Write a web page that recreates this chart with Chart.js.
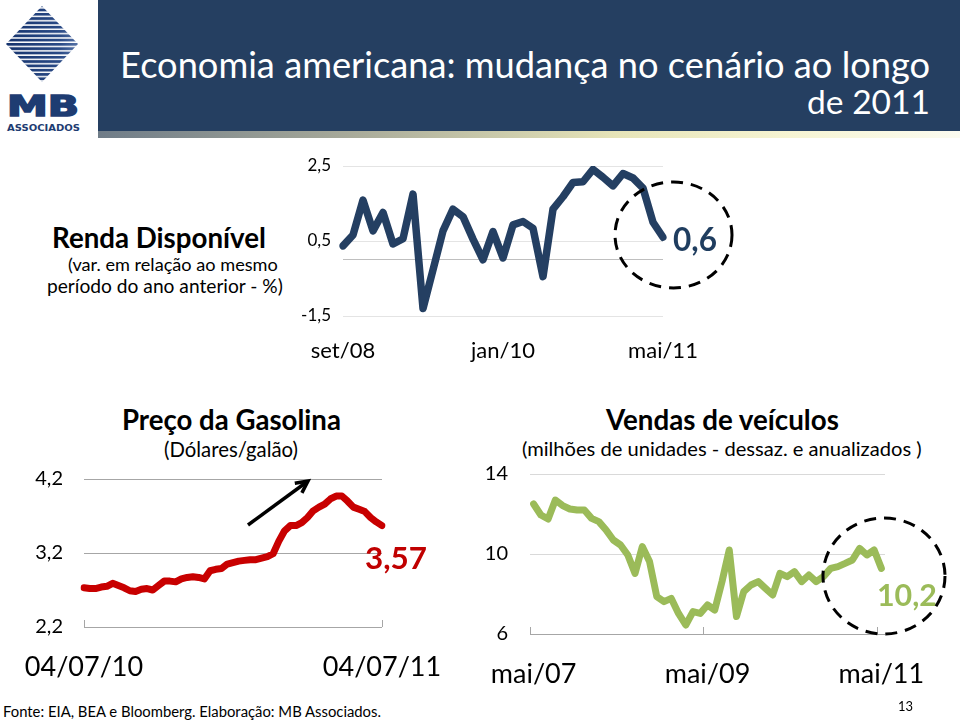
<!DOCTYPE html>
<html><head><meta charset="utf-8">
<script src="https://cdn.jsdelivr.net/npm/chart.js"></script>
<style>
html,body{margin:0;padding:0;background:#fff;}
#page{position:relative;width:960px;height:721px;overflow:hidden;font-family:Lato,'Open Sans',sans-serif;background:#fff;}
.t{position:absolute;white-space:nowrap;line-height:1;}
canvas{position:absolute;}
#banner{position:absolute;left:98px;top:0;width:862px;height:131px;background:#253f61;}
#strip{position:absolute;left:98px;top:131px;width:862px;height:7px;background:linear-gradient(to right,#6f7c88 0%,#a9ab9a 30%,#e6e4b8 60%,#f6f4d2 80%,#fbfbf0 100%);}
</style></head><body><div id="page">
<div id="banner"></div><div id="strip"></div>
<svg width="100" height="140" style="position:absolute;left:0;top:0">
 <defs>
  <linearGradient id="lg" x1="0" y1="0" x2="1" y2="0">
   <stop offset="0" stop-color="#12306a"/><stop offset="0.6" stop-color="#2a4a86"/><stop offset="1" stop-color="#8aa3cc"/>
  </linearGradient>
  <pattern id="stripes" patternUnits="userSpaceOnUse" width="100" height="4.3">
   <rect x="0" y="0" width="100" height="2.8" fill="url(#lg)"/>
  </pattern>
  <clipPath id="dia"><polygon points="42,6 78,44 42,82 6,44"/></clipPath>
 </defs>
 <rect x="0" y="6" width="100" height="78" fill="url(#stripes)" clip-path="url(#dia)"/>
 <text x="7" y="116" font-family="'DejaVu Sans'" font-weight="bold" font-size="29" fill="#1e3c72" stroke="#1e3c72" stroke-width="1.6" textLength="72" lengthAdjust="spacingAndGlyphs">MB</text>
 <text x="7" y="131" font-family="'DejaVu Sans'" font-weight="bold" font-size="9" fill="#1e3c72" textLength="73" lengthAdjust="spacingAndGlyphs">ASSOCIADOS</text>
</svg>
<canvas id="c1" width="410" height="215" style="left:290px;top:150px"></canvas>
<canvas id="c2" width="430" height="220" style="left:20px;top:465px"></canvas>
<canvas id="c3" width="470" height="232" style="left:470px;top:460px"></canvas>
</div>
<script>
// ---------------- DATA ----------------
const rendaCategories = ['set/08','out/08','nov/08','dez/08','jan/09','fev/09','mar/09','abr/09','mai/09','jun/09','jul/09','ago/09','set/09','out/09','nov/09','dez/09','jan/10','fev/10','mar/10','abr/10','mai/10','jun/10','jul/10','ago/10','set/10','out/10','nov/10','dez/10','jan/11','fev/11','mar/11','abr/11','mai/11'];
const rendaValues = [0.37,0.66,1.59,0.77,1.26,0.42,0.56,1.75,-1.30,-0.27,0.77,1.35,1.15,0.55,0.00,0.75,0.05,0.93,1.02,0.84,-0.45,1.35,1.68,2.06,2.08,2.41,2.20,1.97,2.30,2.18,1.91,1.00,0.60];
const rendaXTickLabels = ['set/08','jan/10','mai/11'];
const rendaYTicks = [-1.5, 0.5, 2.5];

const gasCategories = ['04/07/10','11/07/10','18/07/10','25/07/10','01/08/10','08/08/10','15/08/10','22/08/10','29/08/10','05/09/10','12/09/10','19/09/10','26/09/10','03/10/10','10/10/10','17/10/10','24/10/10','31/10/10','07/11/10','14/11/10','21/11/10','28/11/10','05/12/10','12/12/10','19/12/10','26/12/10','02/01/11','09/01/11','16/01/11','23/01/11','30/01/11','06/02/11','13/02/11','20/02/11','27/02/11','06/03/11','13/03/11','20/03/11','27/03/11','03/04/11','10/04/11','17/04/11','24/04/11','01/05/11','08/05/11','15/05/11','22/05/11','29/05/11','05/06/11','12/06/11','19/06/11','26/06/11','04/07/11'];
const gasValues = [2.73,2.72,2.72,2.74,2.75,2.79,2.76,2.73,2.69,2.68,2.71,2.72,2.70,2.76,2.82,2.82,2.81,2.85,2.87,2.88,2.87,2.85,2.96,2.98,2.99,3.05,3.07,3.09,3.10,3.11,3.11,3.13,3.15,3.19,3.36,3.50,3.57,3.57,3.61,3.68,3.77,3.82,3.86,3.93,3.97,3.97,3.90,3.82,3.79,3.76,3.68,3.62,3.57];
const gasXTickLabels = ['04/07/10','04/07/11'];
const gasYTicks = [2.2, 3.2, 4.2];

const vendasCategories = ['mai/07','jun/07','jul/07','ago/07','set/07','out/07','nov/07','dez/07','jan/08','fev/08','mar/08','abr/08','mai/08','jun/08','jul/08','ago/08','set/08','out/08','nov/08','dez/08','jan/09','fev/09','mar/09','abr/09','mai/09','jun/09','jul/09','ago/09','set/09','out/09','nov/09','dez/09','jan/10','fev/10','mar/10','abr/10','mai/10','jun/10','jul/10','ago/10','set/10','out/10','nov/10','dez/10','jan/11','fev/11','mar/11','abr/11','mai/11'];
const vendasValues = [12.5,11.95,11.75,12.7,12.42,12.25,12.2,12.2,11.78,11.62,11.2,10.7,10.45,9.95,9.03,10.37,9.62,7.87,7.62,7.78,7.03,6.45,7.12,7.03,7.45,7.2,8.62,10.2,6.87,8.12,8.45,8.62,8.28,7.95,9.03,8.87,9.12,8.62,8.95,8.62,8.87,9.28,9.37,9.53,9.7,10.28,9.95,10.2,9.28];
const vendasXTickLabels = ['mai/07','mai/09','mai/11'];
const vendasYTicks = [6, 10, 14];

const rendaCallout = '0,6';
const gasCallout = '3,57';
const vendasCallout = '10,2';

// ---------------- CHARTS ----------------
Chart.defaults.font.family = "Lato, 'Open Sans', sans-serif";
Chart.defaults.color = '#000';
const fmt1 = v => v.toFixed(1).replace('.', ',');
const fmt0 = v => String(v);
const noPad = s => { s.paddingTop = 0; s.paddingBottom = 0; s.paddingLeft = 0; s.paddingRight = 0; };

function lineChart(id, cats, vals, o){
  return new Chart(document.getElementById(id), {
    type:'line',
    data:{labels:cats, datasets:[{data:vals, borderColor:o.color, borderWidth:o.lw, pointRadius:0, tension:0,
      borderJoinStyle:'round', borderCapStyle:'round', fill:false}]},
    options:{
      responsive:false, animation:false, devicePixelRatio:1, events:[],
      layout:{padding:o.padding},
      plugins:{legend:{display:false}, tooltip:{enabled:false}},
      scales:{
        x:{ type:'category', offset:o.xOffset,
          afterFit:s=>{s.height=o.xH; noPad(s);},
          grid:{display:o.xMarks!==null, drawOnChartArea:false, offset:o.xOffset, drawTicks:true, tickLength:-7, lineWidth:1,
                color:c=> (o.xMarks && c.index!==undefined && o.xMarks.includes(c.index)) ? o.axisColor : 'rgba(0,0,0,0)'},
          border:{display:false},
          ticks:{autoSkip:false, maxRotation:0, minRotation:0, padding:o.xPad, font:{size:o.xFont}, color:'#000',
            callback:function(v){const l=this.getLabelForValue(v); return o.xShow.includes(l)?l:'';}}
        },
        y:{ min:o.yMin, max:o.yMax,
          afterFit:s=>{s.width=o.yW; noPad(s);},
          afterBuildTicks:s=>{s.ticks=o.yTicks.map(v=>({value:v}));},
          grid:{drawTicks:false, lineWidth:1, color:c=> (c.tick && c.tick.value===o.axisValue) ? o.axisColor : o.gridColor},
          border:{display:false},
          ticks:{padding:o.yPad, font:{size:o.yFont}, color:'#000', callback:o.yFmt}
        }
      }
    }
  });
}

lineChart('c1', rendaCategories, rendaValues, {
  color:'#243f62', lw:7.5, padding:{top:16,right:37,left:0,bottom:0},
  xOffset:false, xH:49, xMarks:null, axisColor:'#bfbfbf', xPad:29, xFont:22, xShow:rendaXTickLabels,
  yMin:-1.5, yMax:2.5, yW:53, yTicks:[...rendaYTicks, 0], axisValue:0, gridColor:'#e4e4e4',
  yPad:12, yFont:17, yFmt:v=> v===0 ? '' : fmt1(v)
});
lineChart('c2', gasCategories, gasValues, {
  color:'#c80000', lw:7, padding:{top:14,right:68,left:0,bottom:0},
  xOffset:false, xH:58, xMarks:[0, gasCategories.length-1], axisColor:'#a6a6a6', xPad:31, xFont:27, xShow:gasXTickLabels,
  yMin:2.2, yMax:4.2, yW:64, yTicks:gasYTicks, axisValue:2.2, gridColor:'#a6a6a6',
  yPad:21, yFont:20, yFmt:fmt1
});
lineChart('c3', vendasCategories, vendasValues, {
  color:'#9bbb59', lw:7, padding:{top:14,right:55,left:0,bottom:0},
  xOffset:true, xH:58, xMarks:[0,24,48], axisColor:'#a6a6a6', xPad:31, xFont:27, xShow:vendasXTickLabels,
  yMin:6, yMax:14, yW:60, yTicks:vendasYTicks, axisValue:6, gridColor:'#d9d9d9',
  yPad:22, yFont:20, yFmt:fmt0
});

// ---------------- TEXT ----------------
const page = document.getElementById('page');
const texts = [
  {s:'Economia americana: mudança no cenário ao longo', x:930, a:'r', cy:64, w:810, size:34, c:'#fff'},
  {s:'de 2011', x:930, a:'r', cy:102, w:123, size:34, c:'#fff'},
  {s:'Renda Disponível', x:52, cy:238, w:214, size:24, b:1},
  {s:'(var. em relação ao mesmo', x:68, cy:264, w:210, size:19},
  {s:'período do ano anterior - %)', x:47, cy:286, w:236, size:19},
  {s:rendaCallout, x:673, cy:240, w:44, size:30, b:1, c:'#1f3d5f'},
  {s:'Preço da Gasolina', x:122, cy:420, w:219, size:24, b:1},
  {s:'(Dólares/galão)', x:164, cy:449, w:134, size:18},
  {s:gasCallout, x:365, cy:558, w:62, size:34, b:1, c:'#c00000'},
  {s:'Vendas de veículos', x:606, cy:420, w:233, size:24, b:1},
  {s:'(milhões de unidades - dessaz. e anualizados )', x:522, cy:448, w:400, size:17},
  {s:vendasCallout, x:877, cy:594, w:60, size:32, b:1, c:'#9bbb59'},
  {s:'Fonte: EIA, BEA e Bloomberg. Elaboração: MB Associados.', x:3, cy:711, w:378, size:16},
  {s:'13', x:898, cy:706, w:15, size:14}
];
texts.forEach(t=>{
  const d=document.createElement('div'); d.className='t'; d.textContent=t.s;
  d.style.fontSize=t.size+'px'; d.style.fontWeight=t.b?700:400; d.style.color=t.c||'#000';
  page.appendChild(d);
  const m=d.getBoundingClientRect().width;
  const fs=t.size*t.w/m; d.style.fontSize=fs+'px';
  const wd=d.getBoundingClientRect().width;
  const left = t.a==='r'? t.x-wd : (t.a==='c'? t.x-wd/2 : t.x);
  d.style.left=left+'px'; d.style.top=(t.cy-fs/2)+'px';
});

// ---------------- OVERLAY ----------------
const ns='http://www.w3.org/2000/svg';
const ov=document.createElementNS(ns,'svg');
ov.setAttribute('width','960'); ov.setAttribute('height','721');
ov.style.cssText='position:absolute;left:0;top:0;pointer-events:none';
ov.innerHTML =
 '<ellipse cx="673.5" cy="235" rx="58.5" ry="53" fill="none" stroke="#000" stroke-width="3" stroke-dasharray="12 8"/>'+
 '<ellipse cx="884" cy="576" rx="61" ry="58" fill="none" stroke="#000" stroke-width="3" stroke-dasharray="12 8"/>'+
 '<line x1="248" y1="525" x2="306" y2="482.5" stroke="#000" stroke-width="3.5"/>'+
 '<polyline points="294.8,483.3 308,481 301.9,492.9" fill="none" stroke="#000" stroke-width="3.5"/>';
page.appendChild(ov);
</script>
</body></html>
